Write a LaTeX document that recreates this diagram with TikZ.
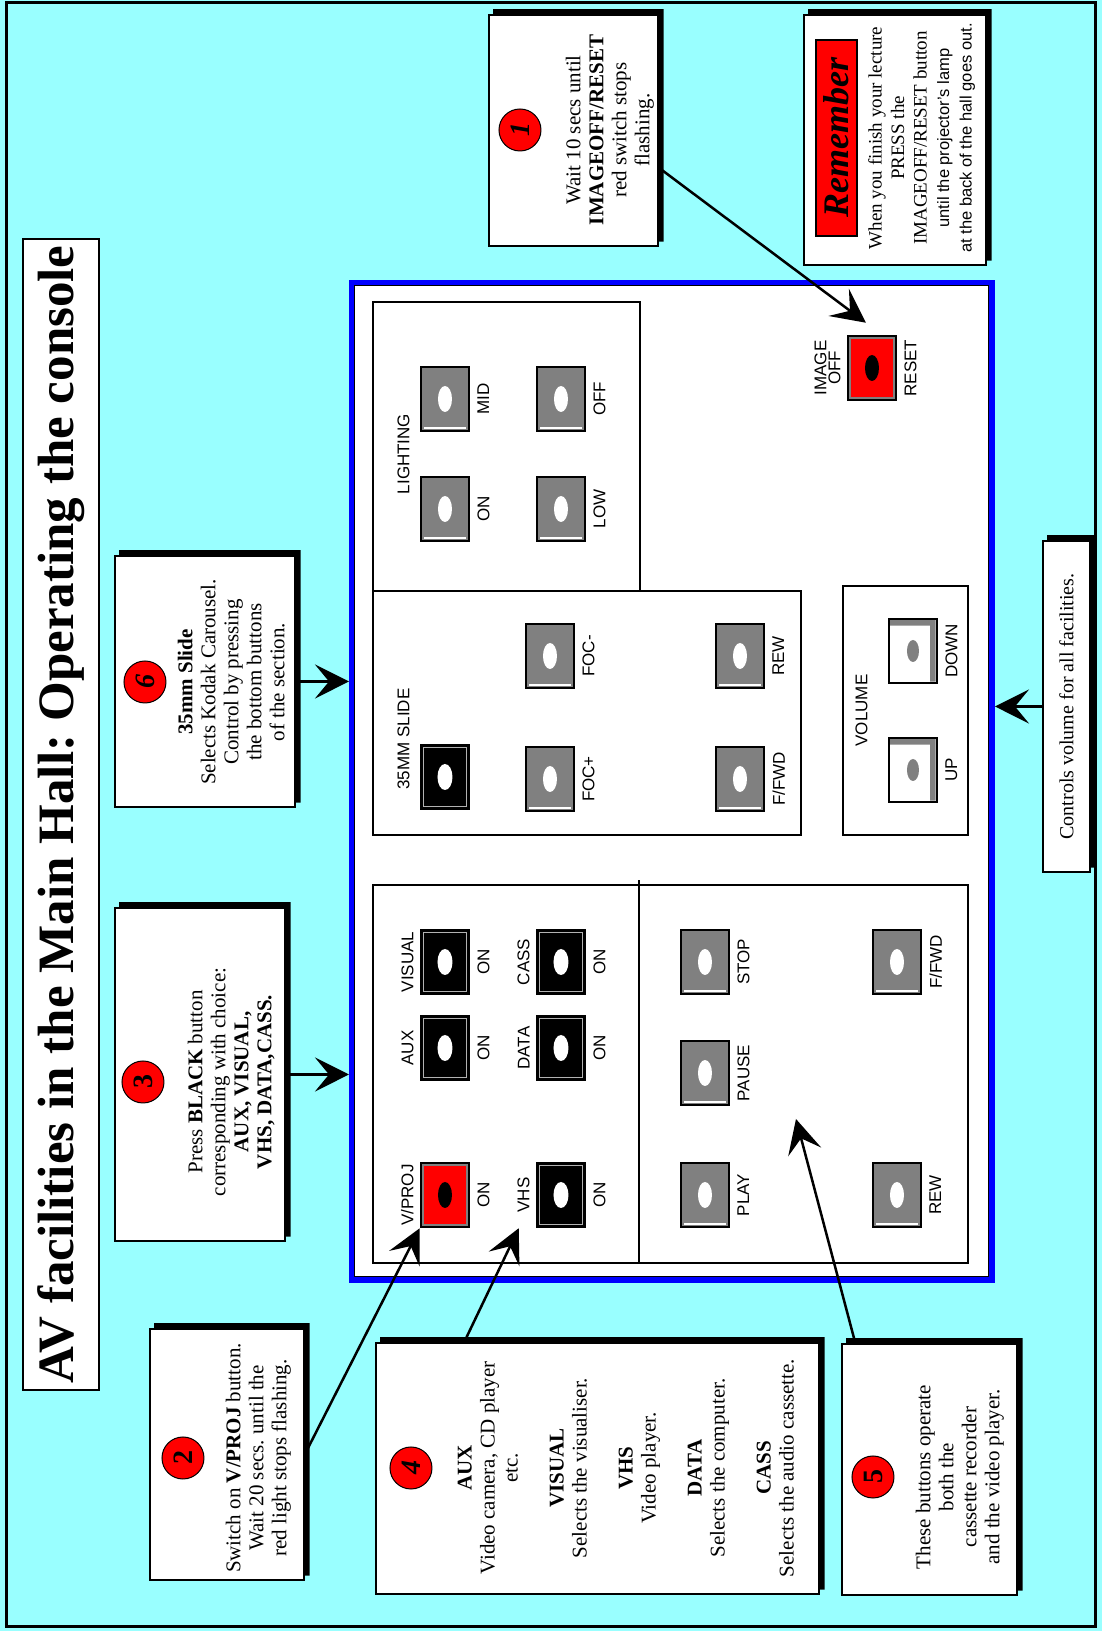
\documentclass[tikz,border=0pt]{standalone}
\usepackage{fontspec}
\setmainfont{Liberation Serif}
\setsansfont{Liberation Sans}
\usetikzlibrary{arrows.meta, positioning, calc}
\definecolor{hallcyan}{RGB}{153,255,255}
\definecolor{btngray}{RGB}{128,128,128}
\definecolor{conblue}{RGB}{0,0,255}
\frenchspacing

\begin{document}
\begin{tikzpicture}[
	x=1pt, y=1pt, rotate=90, transform shape,
	infobox/.style={rectangle, draw, line width=1.5, fill=white, inner sep=0},
	numcirc/.style={circle, draw, line width=1, fill=red, minimum size=42, inner sep=0, font=\fontsize{28}{28}\selectfont\bfseries},
	numit/.style={numcirc, font=\fontsize{28}{28}\selectfont\bfseries\itshape},
	infotext/.style={align=center, inner sep=0, font=\fontsize{21}{23}\selectfont},
	panel/.style={rectangle, draw, line width=1.5, inner sep=0},
	btn/.style={rectangle, draw, line width=2.5, minimum width=64, minimum height=48, inner sep=0},
	lbl/.style={inner sep=0, font=\sffamily\fontsize{17}{14}\selectfont},
	arrow/.style={-{Stealth[length=34pt, width=34pt, inset=14pt]}, line width=2.5}
	]
	\useasboundingbox (0,0) rectangle (1631,1102);
	\fill[hallcyan] (0,0) rectangle (1631,1102);
	\draw[line width=3] (4,6) rectangle (1628,1095);

	% title
	\node[rectangle, draw, line width=2, fill=white, minimum width=1151, minimum height=76, font=\fontsize{51}{51}\selectfont\bfseries] (title) at (816.5,1041) {AV facilities in the Main Hall: Operating the console};

	% note boxes
	\node[infobox, minimum width=231, minimum height=169] (b1) at (1500.5,528.5) {};
	\node[infobox, minimum width=250, minimum height=182] (rem) at (1491,207) {};
	\node[infobox, minimum width=251, minimum height=180] (b6) at (949.5,897) {};
	\node[infobox, minimum width=333, minimum height=170] (b3) at (556.5,902) {};
	\node[infobox, minimum width=251, minimum height=154] (b2) at (176.5,875) {};
	\node[infobox, minimum width=251, minimum height=443] (b4) at (162.5,504.5) {};
	\node[infobox, minimum width=251, minimum height=175] (b5) at (161.5,172.5) {};
	\node[infobox, minimum width=331, minimum height=47, font=\fontsize{20}{23}\selectfont] (vbox) at (924.5,35.5) {Controls volume for all facilities.};
	\foreach \b in {b1,rem,b6,b3,b2,b4,b5,vbox}
		\fill ($(\b.south west)+(5,0)$) -- ($(\b.south west)+(5,-5)$) -- ($(\b.south east)+(5,-5)$) -- ($(\b.north east)+(5,-5)$) -- ($(\b.north east)+(0,-5)$) -- (\b.south east) -- cycle;

	\node[numit] (n1) at (1501,582) {1};
	\node[infotext, below=24pt of n1] (t1) {Wait 10 secs until\\\textbf{IMAGEOFF/RESET}\\red switch stops\\flashing.};

	\node[rectangle, draw, line width=2, fill=red, minimum width=196, minimum height=41, inner sep=0, font=\fontsize{36}{36}\selectfont\bfseries\itshape] (remtag) at (1493,265.5) {Remember};
	\node[infotext, font=\fontsize{19}{22.5}\selectfont, below=10pt of remtag] (rem-t) {When you finish your lecture\\PRESS the\\IMAGEOFF/RESET button\\{\sffamily\fontsize{16.5}{22.5}\selectfont until the projector's lamp}\\{\sffamily\fontsize{16.5}{22.5}\selectfont at the back of the hall goes out.}};

	\node[numit] (n6) at (949,957) {6};
	\node[infotext, below=11pt of n6] (t6) {\textbf{35mm Slide}\\Selects Kodak Carousel.\\Control by pressing\\the bottom buttons\\of the section.};

	\node[numcirc] (n3) at (549,959) {3};
	\node[infotext, below=23pt of n3] (t3) {Press \textbf{BLACK} button\\corresponding with choice:\\\textbf{AUX, VISUAL,}\\\textbf{VHS, DATA,CASS.}};

	\node[numcirc] (n2) at (173,919) {2};
	\node[infotext, below=21pt of n2] (t2) {Switch on \textbf{V/PROJ} button.\\Wait 20 secs. until the\\red light stops flashing.};

	\node[numit] (n4) at (163,691) {4};
	\node[infotext, below=25pt of n4] (t4) {\textbf{AUX}\\Video camera, CD player\\etc.\\[23pt]\textbf{VISUAL}\\Selects the visualiser.\\[23pt]\textbf{VHS}\\Video player.\\[23pt]\textbf{DATA}\\Selects the computer.\\[23pt]\textbf{CASS}\\Selects the audio cassette.};

	\node[numcirc] (n5) at (154,229) {5};
	\node[infotext, below=21pt of n5] (t5) {These buttons operate\\both the\\cassette recorder\\and the video player.};

	% console
	\node[rectangle, draw=conblue, line width=6, fill=white, minimum width=997, minimum height=640] (console) at (849.5,430) {};
	\draw[line width=1] ($(console.south west)+(6,6)$) rectangle ($(console.north east)+(-6,-6)$);
	\node[panel, minimum width=289, minimum height=267] (lightp) at (1184.5,595.5) {};
	\node[panel, minimum width=244, minimum height=428] (slidep) at (918,515) {};
	\node[panel, minimum width=249, minimum height=125] (volp) at (920.5,196.5) {};
	\node[panel, minimum width=378, minimum height=595] (selp) at (557,431.5) {};
	\draw[line width=1.5] ($(selp.north west)!.447!(selp.south west)$) -- ($(selp.north east)!.447!(selp.south east)+(4,0)$);

	% buttons
	\foreach \n/\x/\y in {lon/1122/657, lmid/1232/657, llow/1122/541, loff/1232/541, focp/852/552, focm/975/552, sffwd/852/362, srew/975/362, stop/669/397, pause/558/397, play/436/397, tffwd/669/205, trew/436/205} {
		\node[btn, fill=btngray] (\n) at (\x,\y) {};
		\draw[white, line width=1.5] ($(\n.south west)+(4,4)$) -- ($(\n.north west)+(4,-4)$);
		\fill[white] (\n.center) ellipse [x radius=13, y radius=7];
	}
	\foreach \n/\x/\y in {slide/854/657, aux/583/657, visual/669/657, vhs/436/541, data/583/541, cass/669/541} {
		\node[btn, fill=black] (\n) at (\x,\y) {};
		\draw[gray!60, line width=1] ($(\n.south west)+(4,4)$) rectangle ($(\n.north east)+(-4,-4)$);
		\fill[white] (\n.center) ellipse [x radius=13, y radius=7.5];
	}
	\foreach \n/\x/\y in {vproj/436/657, reset/1263/230} {
		\node[btn, fill=red] (\n) at (\x,\y) {};
		\draw[btngray, line width=2] ($(\n.south west)+(3.5,3.5)$) rectangle ($(\n.north east)+(-3.5,-3.5)$);
		\fill[black] (\n.center) ellipse [x radius=13, y radius=7];
	}
	\foreach \n/\x/\y in {vup/861/189, vdown/980/189} {
		\node[btn, fill=white] (\n) at (\x,\y) {};
		\fill[btngray] ($(\n.south west)+(2.5,2.5)$) -- ($(\n.south east)+(-2.5,2.5)$) -- ($(\n.north east)+(-2.5,-2.5)$) -- ($(\n.north east)+(-8,-2.5)$) -- ($(\n.south east)+(-8,8)$) -- ($(\n.south west)+(2.5,8)$) -- cycle;
		\fill[btngray] (\n.center) ellipse [x radius=11, y radius=6];
	}

	% button labels
	\foreach \n/\txt in {lon/ON, lmid/MID, llow/LOW, loff/OFF, focp/FOC+, focm/FOC-, sffwd/{F/FWD}, srew/REW, stop/STOP, pause/PAUSE, play/PLAY, tffwd/{F/FWD}, trew/REW, vproj/ON, aux/ON, visual/ON, vhs/ON, data/ON, cass/ON, vup/UP, vdown/DOWN, reset/RESET}
		\node[lbl, below=7pt of \n] (\n-b) {\txt};
	\foreach \n/\txt in {vproj/{V/PROJ}, aux/AUX, visual/VISUAL, vhs/VHS, data/DATA, cass/CASS}
		\node[lbl, above=6pt of \n] (\n-a) {\txt};
	\node[lbl, align=center, above=6pt of reset] (reset-a) {IMAGE\\OFF};
	\node[lbl, anchor=south] (lightp-a) at ($(lon.north)!.5!(lmid.north)+(0,10)$) {LIGHTING};
	\node[lbl, anchor=south] (slide-a) at ($(slide.north)+(38,10)$) {35MM SLIDE};
	\node[lbl, anchor=south] (volp-a) at ($(vup.north)!.5!(vdown.north)+(0,20)$) {VOLUME};

	% arrows
	\coordinate (e1) at ($(reset.east)+(12,6)$);
	\coordinate (e4) at ($(vhs.north west)+(0,17)$);
	\coordinate (e5) at (512,306);
	\coordinate (e6) at ($(console.north)+(100,0)$);
	\coordinate (e3) at ($(console.north)+(-293,0)$);
	\coordinate (ev) at ($(console.south)+(75,0)$);
	\draw[arrow] ($(b1.south west)!.34!(b1.south east)$) -- (e1);
	\draw[arrow] (b2.south) -- (vproj.north west);
	\draw[arrow] ($(b4.north east)!.2!(b4.south east)$) -- (e4);
	\draw[arrow] ($(b5.north east)!.08!(b5.south east)$) -- (e5);
	\draw[arrow] (b6.south) -- (e6);
	\draw[arrow] (b3.south) -- (e3);
	\draw[arrow] (vbox.north) -- (ev);
\end{tikzpicture}
\end{document}
